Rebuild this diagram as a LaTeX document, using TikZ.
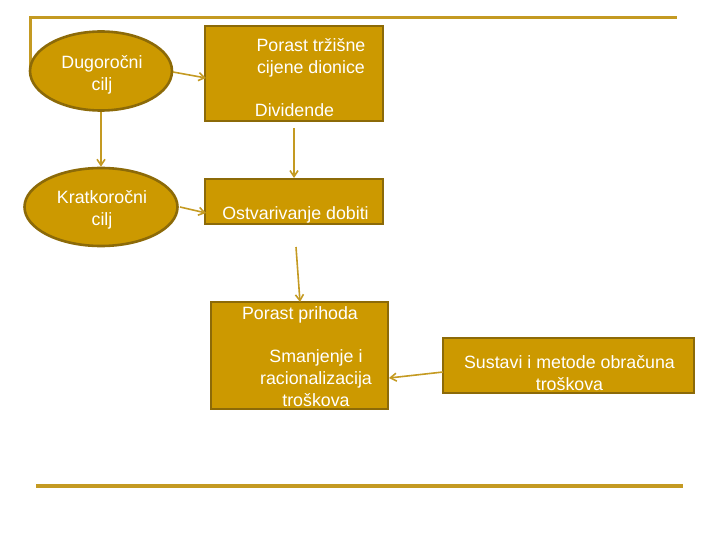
\documentclass[tikz,border=0pt]{standalone}
\usepackage{fontspec}
\setmainfont{Liberation Sans}
\usetikzlibrary{shapes.geometric,arrows.meta}
\definecolor{gfill}{HTML}{CC9900}
\definecolor{gedge}{HTML}{8C6A08}
\definecolor{gline}{HTML}{C49A22}
\begin{document}
\begin{tikzpicture}[x=1pt,y=-1pt,
  ell/.style={ellipse,draw=gedge,fill=gfill,line width=2.6pt,inner sep=0pt},
  bx/.style={rectangle,draw=gedge,fill=gfill,line width=2.6pt,inner sep=0pt},
  txt/.style={text=white,font=\fontsize{17.8}{22}\selectfont,align=center,inner sep=0pt},
  con/.style={draw=gline,line width=1.6pt,-{Straight Barb[length=6pt,width=8pt]}},
  rule/.style={draw=gline,line width=3.2pt}]
\useasboundingbox (0,0) rectangle (720,540);
% frame lines
\coordinate (tl) at (30,18);
\coordinate (tr) at (677,18);
\coordinate (tld) at (30,66);
\coordinate (bl) at (36,486);
\coordinate (br) at (683,486);
\draw[draw=gline,line width=3pt] (tld) -- (tl) -- (tr);
\draw[rule] (bl) -- (br);
% ellipses
\node[ell,minimum width=142pt,minimum height=79pt] (e1) at (101,71) {};
\node[txt] (e1t) at (102,75) {Dugoročni\\cilj};
\node[ell,minimum width=153pt,minimum height=78pt] (e2) at (101,207) {};
\node[txt] (e2t) at (102,210) {Kratkoročni\\cilj};
% boxes
\node[bx,minimum width=178pt,minimum height=95pt] (b1) at (294,73.5) {};
\node[txt] (b1t) at (311,58) {Porast tržišne\\cijene dionice};
\node[txt] (b1d) at (294.5,110) {Dividende};
\node[bx,minimum width=178pt,minimum height=45pt] (b2) at (294,201.5) {};
\node[txt] (b2t) at (295.5,215) {Ostvarivanje dobiti};
\node[bx,minimum width=177pt,minimum height=107pt] (b3) at (299.5,355.5) {};
\node[txt] (b3t) at (300,315) {Porast prihoda};
\node[txt] (b3s) at (316,378) {Smanjenje i\\racionalizacija\\troškova};
\node[bx,minimum width=251pt,minimum height=55pt] (b4) at (568.5,365.5) {};
\node[txt] (b4t) at (569.5,373) {Sustavi i metode obračuna\\troškova};
% connectors
\coordinate (a1s) at (173,72);
\coordinate (a1e) at (206,78);
\draw[con] (a1s) -- (a1e);
\coordinate (a2s) at (180,207);
\coordinate (a2e) at (206,213);
\draw[con] (a2s) -- (a2e);
\draw[con] (e1.south) -- (e2.north);
\coordinate (a3s) at (294,128);
\coordinate (a3e) at (294,178);
\draw[con] (a3s) -- (a3e);
\coordinate (a4s) at (296,247);
\coordinate (a4e) at (300,302);
\draw[con] (a4s) -- (a4e);
\coordinate (a5s) at (443,372);
\coordinate (a5e) at (389,378);
\draw[con] (a5s) -- (a5e);
\end{tikzpicture}
\end{document}
